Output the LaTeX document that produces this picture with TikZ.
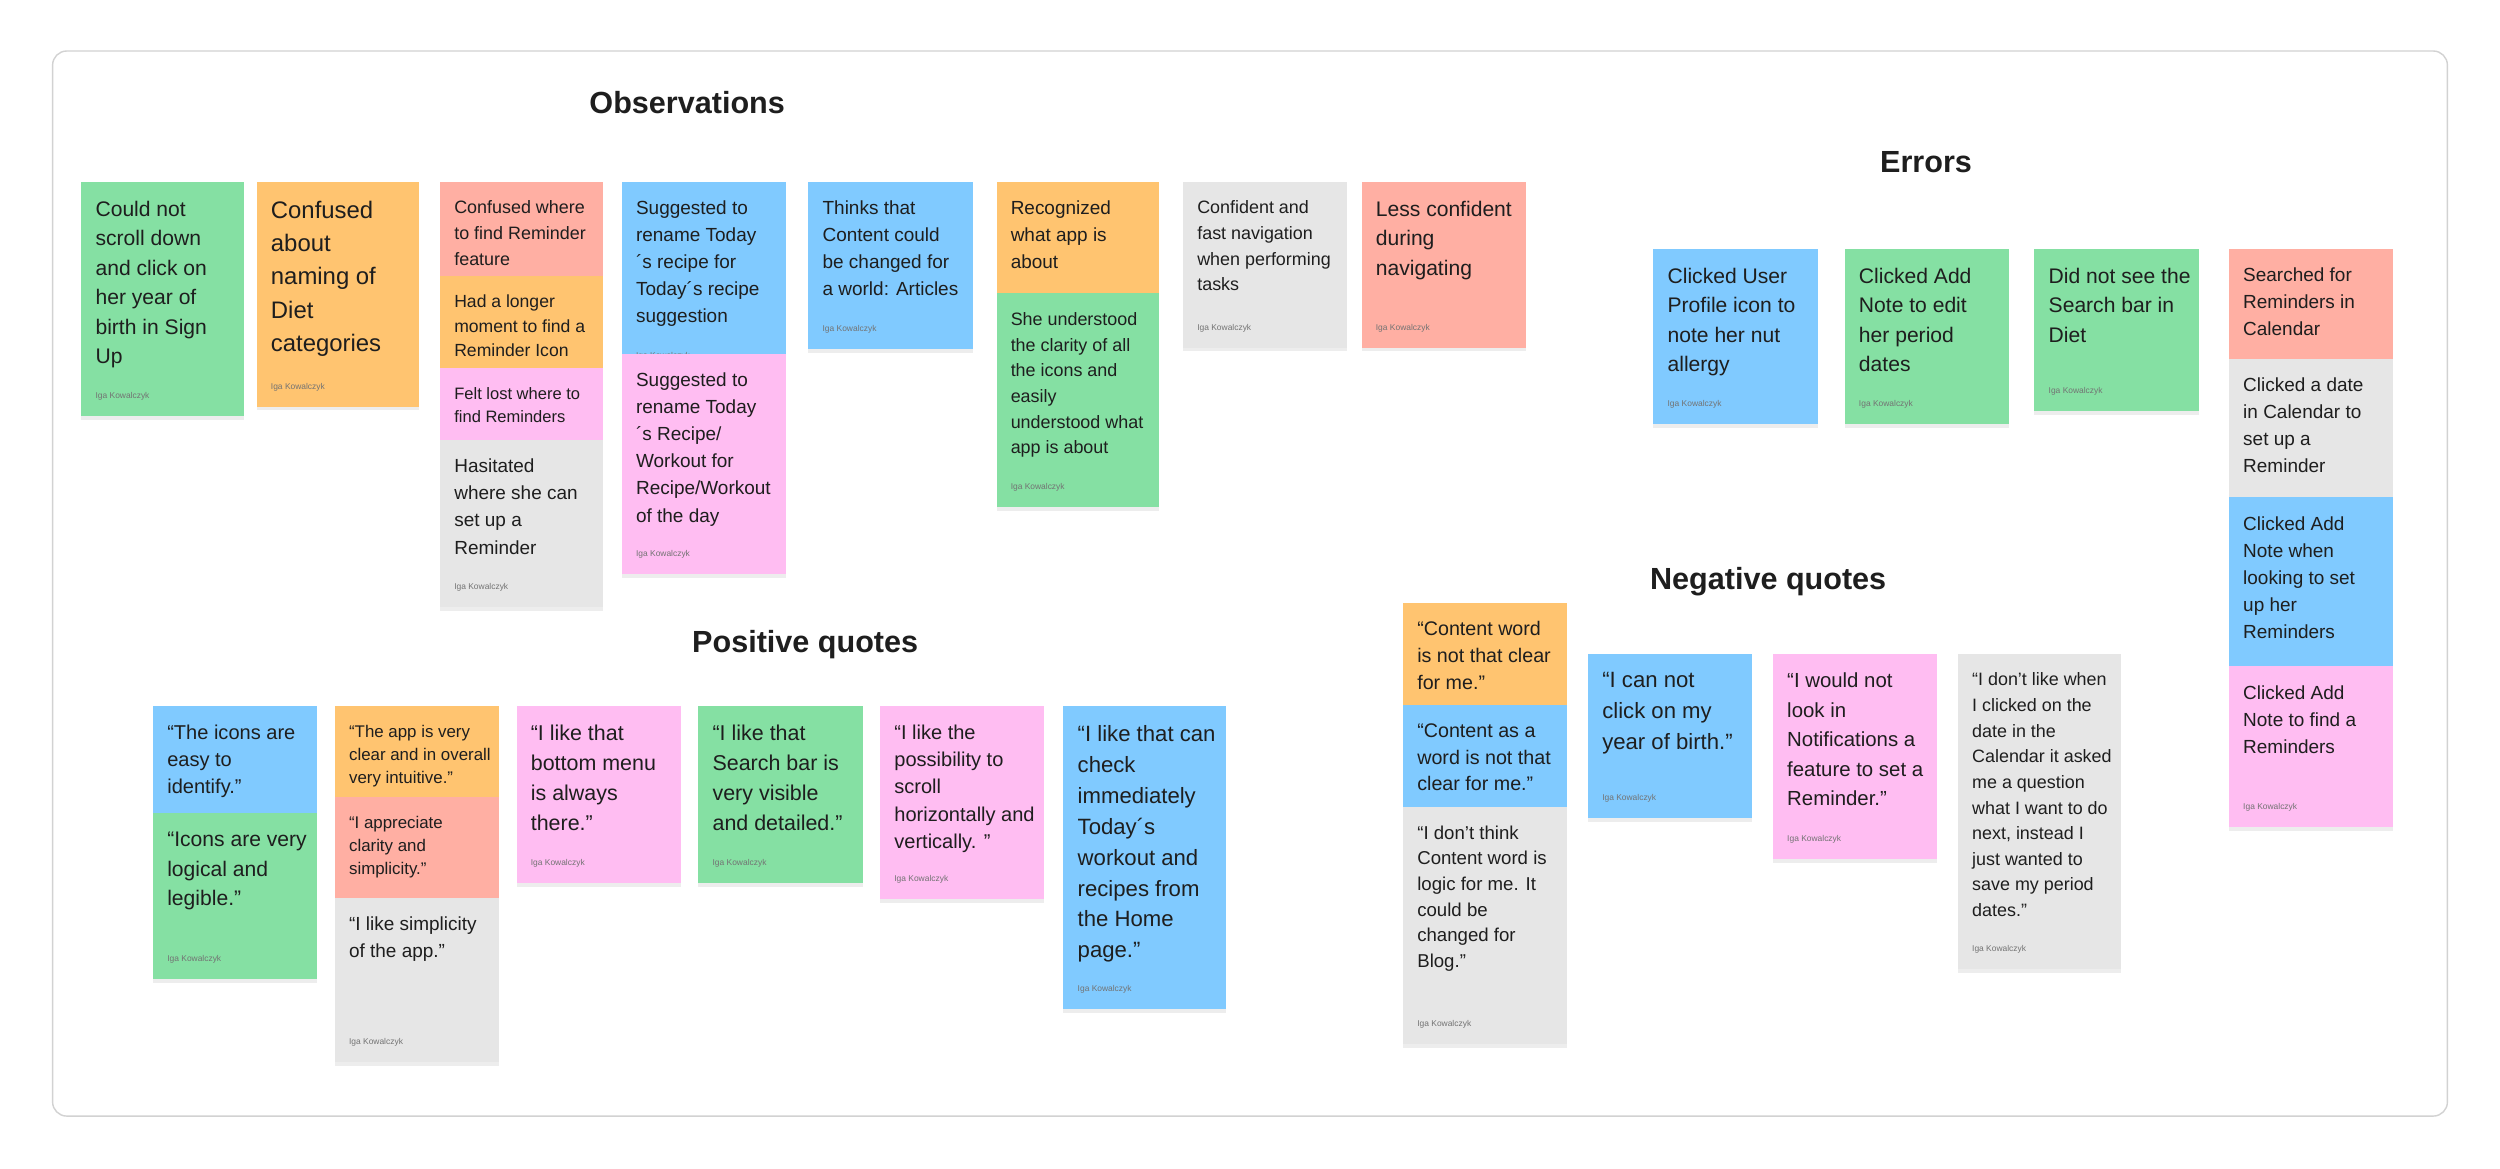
\documentclass[tikz,border=0pt]{standalone}
\usepackage{fontspec}
\setmainfont{Liberation Sans}
\usetikzlibrary{shadows}

\definecolor{stickygreen}{HTML}{85E0A3}
\definecolor{stickyorange}{HTML}{FFC470}
\definecolor{stickyred}{HTML}{FFAFA3}
\definecolor{stickyblue}{HTML}{80CAFF}
\definecolor{stickypink}{HTML}{FFBDF2}
\definecolor{stickygrey}{HTML}{E6E6E6}
\definecolor{ink}{HTML}{1E1E1E}
\definecolor{boardline}{HTML}{D2D2D2}

\newcommand{\upx}{0.015944cm}
\newcommand{\sz}[2]{\fontsize{#1pt}{#2pt}\selectfont}

\tikzstyle{note}=[anchor=north west, inner sep=0, outer sep=0,
  drop shadow={shadow xshift=0pt, shadow yshift=-1.1pt, opacity=0.07, fill=black}]
\tikzstyle{notetext}=[anchor=north west, align=left, inner sep=0, text=ink]
\tikzstyle{signature}=[anchor=base west, inner sep=0, text=black!55, font=\sz{2.4}{3}]
\tikzstyle{heading}=[anchor=base, inner sep=0, text=ink, font=\bfseries\sz{8.7}{10}]

% name, colour, x, y, width, height, font, text
\newcommand{\sticky}[8]{%
  \node[note, fill=#2, minimum width=#5*\upx, minimum height=#6*\upx] (#1) at (#3,#4) {};
  \node[notetext, font=#7] (#1-text) at ([xshift=8.5*\upx, yshift=-11.5*\upx]#1.north west) {#8};
}
\newcommand{\signed}[1]{%
  \node[signature] (#1-sign) at ([xshift=8.5*\upx, yshift=11*\upx]#1.south west) {Iga Kowalczyk};
}

\begin{document}
\begin{tikzpicture}[x=\upx, y=-\upx]
  \fill[white] (0,0) rectangle (1568,732.6);
  \useasboundingbox (0,0) rectangle (1568,732.6);
  \draw[boardline, line width=0.4pt, fill=white, rounded corners=4pt] (33,32) rectangle (1535,700);

  % headings
  \node[heading] (observations) at (431,71.5) {Observations};
  \node[heading] (errors) at (1208,108) {Errors};
  \node[heading] (positive) at (505,409) {Positive quotes};
  \node[heading] (negative) at (1109,370) {Negative quotes};

  % observations
  \sticky{obs1}{stickygreen}{51}{114}{102}{147}{\sz{6}{8.4}}{Could not\\scroll down\\and click on\\her year of\\birth in Sign\\Up}
  \signed{obs1}
  \sticky{obs2}{stickyorange}{161}{114}{102}{141}{\sz{6.8}{9.5}}{Confused\\about\\naming of\\Diet\\categories}
  \signed{obs2}
  \sticky{obs3}{stickyred}{276}{114}{102}{70}{\sz{5.1}{7.3}}{Confused where\\to find Reminder\\feature}
  \sticky{obs4}{stickyorange}{276}{173}{102}{70}{\sz{5.0}{7}}{Had a longer\\moment to find a\\Reminder Icon}
  \sticky{obs5}{stickypink}{276}{231}{102}{60}{\sz{4.7}{6.6}}{Felt lost where to\\find Reminders}
  \sticky{obs6}{stickygrey}{276}{276}{102}{105}{\sz{5.4}{7.7}}{Hasitated\\where she can\\set up a\\Reminder}
  \signed{obs6}
  \sticky{obs7}{stickyblue}{390}{114}{103}{122}{\sz{5.4}{7.7}}{Suggested to\\rename Today\\´s recipe for\\Today´s recipe\\suggestion}
  \signed{obs7}
  \sticky{obs8}{stickypink}{390}{222}{103}{138}{\sz{5.4}{7.7}}{Suggested to\\rename Today\\´s Recipe/\\Workout for\\Recipe/Workout\\of the day}
  \signed{obs8}
  \sticky{obs9}{stickyblue}{507}{114}{103}{105}{\sz{5.4}{7.7}}{Thinks that\\Content could\\be changed for\\a world: Articles}
  \signed{obs9}
  \sticky{obs10}{stickyorange}{625}{114}{102}{71}{\sz{5.4}{7.7}}{Recognized\\what app is\\about}
  \sticky{obs11}{stickygreen}{625}{184}{102}{134}{\sz{5.1}{7.3}}{She understood\\the clarity of all\\the icons and\\easily\\understood what\\app is about}
  \signed{obs11}
  \sticky{obs12}{stickygrey}{742}{114}{103}{104}{\sz{5.1}{7.3}}{Confident and\\fast navigation\\when performing\\tasks}
  \signed{obs12}
  \sticky{obs13}{stickyred}{854}{114}{103}{104}{\sz{6}{8.4}}{Less confident\\during\\navigating}
  \signed{obs13}

  % errors
  \sticky{err1}{stickyblue}{1037}{156}{103}{110}{\sz{6}{8.4}}{Clicked User\\Profile icon to\\note her nut\\allergy}
  \signed{err1}
  \sticky{err2}{stickygreen}{1157}{156}{103}{110}{\sz{6}{8.4}}{Clicked Add\\Note to edit\\her period\\dates}
  \signed{err2}
  \sticky{err3}{stickygreen}{1276}{156}{103}{102}{\sz{6}{8.4}}{Did not see the\\Search bar in\\Diet}
  \signed{err3}
  \sticky{err4}{stickyred}{1398}{156}{103}{70}{\sz{5.4}{7.7}}{Searched for\\Reminders in\\Calendar}
  \sticky{err5}{stickygrey}{1398}{225}{103}{88}{\sz{5.4}{7.7}}{Clicked a date\\in Calendar to\\set up a\\Reminder}
  \sticky{err6}{stickyblue}{1398}{312}{103}{106}{\sz{5.4}{7.7}}{Clicked Add\\Note when\\looking to set\\up her\\Reminders}
  \sticky{err7}{stickypink}{1398}{418}{103}{101}{\sz{5.4}{7.7}}{Clicked Add\\Note to find a\\Reminders}
  \signed{err7}

  % positive quotes
  \sticky{pos1}{stickyblue}{96}{443}{103}{67}{\sz{5.7}{7.7}}{“The icons are\\easy to\\identify.”}
  \sticky{pos2}{stickygreen}{96}{510}{103}{104}{\sz{6}{8.4}}{“Icons are very\\logical and\\legible.”}
  \signed{pos2}
  \sticky{pos3}{stickyorange}{210}{443}{103}{57}{\sz{4.8}{6.5}}{“The app is very\\clear and in overall\\very intuitive.”}
  \sticky{pos4}{stickyred}{210}{500}{103}{63}{\sz{4.8}{6.5}}{“I appreciate\\clarity and\\simplicity.”}
  \sticky{pos5}{stickygrey}{210}{563}{103}{103}{\sz{5.4}{7.6}}{“I like simplicity\\of the app.”}
  \signed{pos5}
  \sticky{pos6}{stickypink}{324}{443}{103}{111}{\sz{6.1}{8.5}}{“I like that\\bottom menu\\is always\\there.”}
  \signed{pos6}
  \sticky{pos7}{stickygreen}{438}{443}{103}{111}{\sz{6.1}{8.5}}{“I like that\\Search bar is\\very visible\\and detailed.”}
  \signed{pos7}
  \sticky{pos8}{stickypink}{552}{443}{103}{121}{\sz{5.7}{7.7}}{“I like the\\possibility to\\scroll\\horizontally and\\vertically. ”}
  \signed{pos8}
  \sticky{pos9}{stickyblue}{667}{443}{102}{190}{\sz{6.3}{8.8}}{“I like that can\\check\\immediately\\Today´s\\workout and\\recipes from\\the Home\\page.”}
  \signed{pos9}

  % negative quotes
  \sticky{neg1}{stickyorange}{880}{378}{103}{64}{\sz{5.6}{7.6}}{“Content word\\is not that clear\\for me.”}
  \sticky{neg2}{stickyblue}{880}{442}{103}{64}{\sz{5.6}{7.6}}{“Content as a\\word is not that\\clear for me.”}
  \sticky{neg3}{stickygrey}{880}{506}{103}{149}{\sz{5.3}{7.3}}{“I don’t think\\Content word is\\logic for me. It\\could be\\changed for\\Blog.”}
  \signed{neg3}
  \sticky{neg4}{stickyblue}{996}{410}{103}{103}{\sz{6.3}{8.7}}{“I can not\\click on my\\year of birth.”}
  \signed{neg4}
  \sticky{neg5}{stickypink}{1112}{410}{103}{129}{\sz{5.8}{8.4}}{“I would not\\look in\\Notifications a\\feature to set a\\Reminder.”}
  \signed{neg5}
  \sticky{neg6}{stickygrey}{1228}{410}{102}{198}{\sz{5.1}{7.3}}{“I don’t like when\\I clicked on the\\date in the\\Calendar it asked\\me a question\\what I want to do\\next, instead I\\just wanted to\\save my period\\dates.”}
  \signed{neg6}
\end{tikzpicture}
\end{document}
